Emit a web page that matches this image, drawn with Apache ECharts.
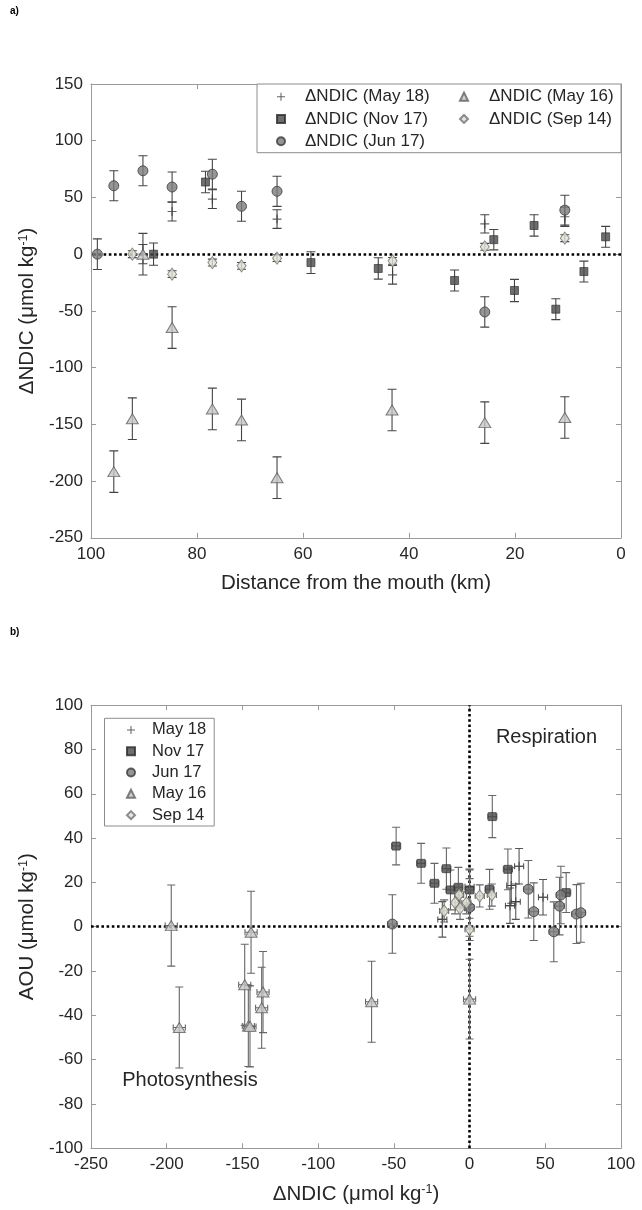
<!DOCTYPE html>
<html><head><meta charset="utf-8">
<script src="https://cdn.jsdelivr.net/npm/echarts/dist/echarts.min.js"></script>
<style>html,body{margin:0;padding:0;background:#fff;}#c{width:642px;height:1210px;}</style>
</head><body><div id="c"></div>
<script>
// ---------- Panel a: ΔNDIC vs distance from the mouth ----------
const distTicks = [100, 80, 60, 40, 20, 0];
const ndicTicks = [150, 100, 50, 0, -50, -100, -150, -200, -250];

const kmMay18  = [90.2, 84.7, 77.1, 64.9, 43.1, 25.7, 10.6];
const valMay18 = [0, 37.6, 48.5, 30.9, -18.2, 26.7, 33.0];
const errMay18 = [8.5, 8.3, 8.3, 8.2, 8.2, 8.1, 8.5];

const kmNov17  = [88.2, 78.4, 58.5, 45.8, 31.4, 24.0, 20.1, 16.4, 12.3, 7.0, 2.9];
const valNov17 = [0, 63.6, -7.4, -12.6, -23.2, 12.8, -32.0, 25.3, -48.5, -15.3, 15.3];
const errNov17 = [9.8, 9.5, 9.6, 9.4, 9.2, 9.0, 9.8, 9.4, 9.2, 9.2, 9.2];

const kmJun17  = [98.8, 95.7, 90.2, 84.7, 77.1, 71.6, 64.9, 25.7, 10.6];
const valJun17 = [0, 60.3, 73.5, 59.2, 70.5, 42.2, 55.4, -50.9, 38.8];
const errJun17 = [13.5, 13.2, 13.2, 13.2, 13.2, 13.2, 13.3, 13.4, 13.2];

const kmMay16  = [95.7, 92.2, 90.2, 84.7, 77.1, 71.6, 64.9, 43.2, 25.7, 10.6];
const valMay16 = [-191.7, -145, 0, -64.7, -136.4, -146.1, -197, -137.3, -148.5, -144];
const errMay16 = [18.3, 18.3, 18.3, 18.3, 18.3, 18.3, 18.3, 18.3, 18.3, 18.3];

const kmSep14  = [92.2, 84.7, 77.1, 71.6, 64.9, 43.1, 25.7, 10.6];
const valSep14 = [0, -17.6, -7.4, -10.3, -3.5, -5.9, 6.5, 14.1];
const errSep14 = [3, 3, 3, 3, 3, 3, 3, 3];

// ---------- Panel b: AOU vs ΔNDIC ----------
const ndicBTicks = [-250, -200, -150, -100, -50, 0, 50, 100];
const aouTicks = [-100, -80, -60, -40, -20, 0, 20, 40, 60, 80, 100];

const bNdicMay18 = [-18, 0, 27.5, 32.7, 30.5, 26.7, 48.5];
const bAouMay18  = [3.3, 18, 18.6, 27.3, 11.3, 9.5, 13.3];
const bAouErrMay18  = [8, 8, 8, 8, 8, 8, 8];
const bNdicErrMay18 = [3, 3, 3, 3, 3, 3, 3];

const bNdicNov17 = [-48.5, -32, -23.2, -15.3, -12.6, -7.4, 0, 13.2, 15, 25.3, 63.8];
const bAouNov17  = [36.4, 28.6, 19.6, 26.2, 16.6, 17.8, 16.6, 16.9, 49.7, 25.9, 15.4];
const bAouErrNov17  = [8.5, 9, 9, 9.3, 9, 9, 9, 9, 9.5, 9.2, 9];
const bNdicErrNov17 = [3, 3, 3, 3, 3, 3, 3, 3, 3, 3, 3];

const bNdicJun17 = [-51, 0, 38.8, 42.4, 55.6, 59.4, 60.3, 70.6, 73.5];
const bAouJun17  = [1.2, 8.7, 16.9, 6.8, -2.3, 9.3, 14.3, 5.7, 6.3];
const bAouErrJun17  = [13.2, 13, 13, 13, 13.5, 13, 13, 13.3, 13.3];
const bNdicErrJun17 = [3, 3, 3, 3, 3, 3, 3, 3, 3];

const bNdicMay16 = [-197, -191.7, -144.3, -148.5, -136.4, -137.3, -146.1, -145, -64.7, 0];
const bAouMay16  = [0.5, -45.5, -2.5, -26.2, -29.5, -36.6, -44.8, -45, -33.9, -32.7];
const bAouErrMay16  = [18.3, 18.3, 18.5, 18.3, 18.3, 18.3, 18.3, 18.3, 18.3, 18];
const bNdicErrMay16 = [4, 4, 4, 4, 4, 4, 4, 4, 4, 4];

const bNdicSep14 = [0, -16.8, -6.9, -9.6, -6.3, -2.1, 6.7, 14.7];
const bAouSep14  = [-1.2, 7.1, 14.3, 10.8, 8.3, 10.8, 13.9, 14.3];
const bAouErrSep14  = [5, 5, 5, 5, 5, 5, 5, 5];
const bNdicErrSep14 = [3, 3, 3, 3, 3, 3, 3, 3];

// ---------- styling ----------
const FONT = "'Liberation Sans', Arial, Helvetica, sans-serif";
const TXT = '#262626';
const AXC = '#9a9a9a';
const PLUS = 'path://M0,4.35H10V5.65H0ZM4.35,0H5.65V10H4.35Z';

const sty = {
  May18: {symbol: PLUS, size: 9, item: {color: '#3c3c3c'}},
  Nov17: {symbol: 'rect', size: 8, item: {color: '#4a4a4a', borderColor: '#2a2a2a', borderWidth: 0.8}},
  Jun17: {symbol: 'circle', size: 10, item: {color: '#7a7a7a', borderColor: '#3c3c3c', borderWidth: 1}},
  May16: {symbol: 'triangle', size: [12, 10], item: {color: '#c6c6c6', borderColor: '#5e5e5e', borderWidth: 1}},
  Sep14: {symbol: 'diamond', size: [9, 12], item: {color: '#e2dfd2', borderColor: '#707070', borderWidth: 1}}
};

function zip(a, b, c, d) { return a.map((v, i) => d ? [v, b[i], c[i], d[i]] : [v, b[i], c[i], 0]); }

function errRender(col, capY, capX) {
  return function (params, api) {
    const x = api.value(0), y = api.value(1), ey = api.value(2), ex = api.value(3);
    const st = {stroke: col, lineWidth: 1.1};
    const ch = [];
    const t = api.coord([x, y + ey]), b = api.coord([x, y - ey]);
    ch.push({type: 'line', shape: {x1: t[0], y1: t[1], x2: b[0], y2: b[1]}, style: st});
    ch.push({type: 'line', shape: {x1: t[0] - capY, y1: t[1], x2: t[0] + capY, y2: t[1]}, style: st});
    ch.push({type: 'line', shape: {x1: b[0] - capY, y1: b[1], x2: b[0] + capY, y2: b[1]}, style: st});
    if (ex) {
      const l = api.coord([x - ex, y]), r = api.coord([x + ex, y]);
      ch.push({type: 'line', shape: {x1: l[0], y1: l[1], x2: r[0], y2: r[1]}, style: st});
      ch.push({type: 'line', shape: {x1: l[0], y1: l[1] - capX, x2: l[0], y2: l[1] + capX}, style: st});
      ch.push({type: 'line', shape: {x1: r[0], y1: r[1] - capX, x2: r[0], y2: r[1] + capX}, style: st});
    }
    return {type: 'group', children: ch};
  };
}

const series = [];
let zc = 2;
function addSeries(name, key, gi, xs, ys, ey, ex, errCol, capY, capX, extra) {
  series.push({
    type: 'custom', name: name + ' err', xAxisIndex: gi * 2, yAxisIndex: gi * 2, z: zc++,
    renderItem: errRender(errCol, capY, capX), data: zip(xs, ys, ey, ex), silent: true,
    encode: {x: 0, y: 1}, clip: true
  });
  const s = {
    type: 'scatter', name: name, xAxisIndex: gi * 2, yAxisIndex: gi * 2, z: zc++,
    symbol: sty[key].symbol, symbolSize: sty[key].size, itemStyle: sty[key].item,
    data: xs.map((v, i) => [v, ys[i]]), silent: true
  };
  if (extra) Object.assign(s, extra);
  series.push(s);
}

const dotted = {color: '#000', width: 2.6, type: [2.6, 2.6]};
addSeries('ΔNDIC (May 18)', 'May18', 0, kmMay18, valMay18, errMay18, null, '#444', 4.5, 0,
  {markLine: {silent: true, symbol: 'none', label: {show: false}, lineStyle: dotted, data: [{yAxis: 0}]}});
addSeries('ΔNDIC (Nov 17)', 'Nov17', 0, kmNov17, valNov17, errNov17, null, '#444', 4.5, 0);
addSeries('ΔNDIC (Jun 17)', 'Jun17', 0, kmJun17, valJun17, errJun17, null, '#444', 4.5, 0);
addSeries('ΔNDIC (May 16)', 'May16', 0, kmMay16, valMay16, errMay16, null, '#444', 4.5, 0);
addSeries('ΔNDIC (Sep 14)', 'Sep14', 0, kmSep14, valSep14, errSep14, null, '#444', 4.5, 0);

addSeries('May 18', 'May18', 1, bNdicMay18, bAouMay18, bAouErrMay18, bNdicErrMay18, '#555', 4, 3,
  {markLine: {silent: true, symbol: 'none', label: {show: false}, lineStyle: dotted, data: [{yAxis: 0}, {xAxis: 0}]}});
addSeries('Nov 17', 'Nov17', 1, bNdicNov17, bAouNov17, bAouErrNov17, bNdicErrNov17, '#666', 4, 3);
addSeries('Jun 17', 'Jun17', 1, bNdicJun17, bAouJun17, bAouErrJun17, bNdicErrJun17, '#666', 4, 3);
addSeries('May 16', 'May16', 1, bNdicMay16, bAouMay16, bAouErrMay16, bNdicErrMay16, '#666', 4, 3);
addSeries('Sep 14', 'Sep14', 1, bNdicSep14, bAouSep14, bAouErrSep14, bNdicErrSep14, '#666', 4, 3);

const tickCommon = {inside: true, length: 5, lineStyle: {color: AXC}};
const lineCommon = {show: true, onZero: false, lineStyle: {color: AXC, width: 1}};
const lab = {color: TXT, fontSize: 17, fontFamily: FONT, margin: 8};
const nameStyle = {color: TXT, fontSize: 20.5, fontFamily: FONT,
  rich: {sup: {fontSize: 12.5, verticalAlign: 'top', fontFamily: FONT, color: TXT, padding: [0, 0, 9, 0]}}};

function xAx(gi, min, max, itv, inverse, name, gap) {
  return [
    {type: 'value', gridIndex: gi, min, max, interval: itv, inverse, position: 'bottom',
     axisLine: lineCommon, axisTick: tickCommon, axisLabel: lab, splitLine: {show: false},
     name, nameLocation: 'middle', nameGap: gap, nameTextStyle: nameStyle},
    {type: 'value', gridIndex: gi, min, max, interval: itv, inverse, position: 'top',
     axisLine: lineCommon, axisTick: tickCommon, axisLabel: {show: false}, splitLine: {show: false}}
  ];
}
function yAx(gi, min, max, itv, name, gap) {
  return [
    {type: 'value', gridIndex: gi, min, max, interval: itv, position: 'left',
     axisLine: lineCommon, axisTick: tickCommon, axisLabel: lab, splitLine: {show: false},
     name, nameLocation: 'middle', nameGap: gap, nameRotate: 90, nameTextStyle: nameStyle},
    {type: 'value', gridIndex: gi, min, max, interval: itv, position: 'right',
     axisLine: lineCommon, axisTick: tickCommon, axisLabel: {show: false}, splitLine: {show: false}}
  ];
}

const legText = (fs, lh, pad) => ({color: TXT, fontSize: fs, fontFamily: FONT, lineHeight: lh, padding: [0, 0, 0, pad]});

const option = {
  animation: false,
  backgroundColor: '#fff',
  grid: [
    {left: 91, top: 84, width: 530, height: 453.8, outerBoundsMode: 'none', containLabel: false},
    {left: 91, top: 705.2, width: 530, height: 443, outerBoundsMode: 'none', containLabel: false}
  ],
  xAxis: [
    ...xAx(0, distTicks[distTicks.length - 1], distTicks[0], 20, true, 'Distance from the mouth (km)', 35),
    ...xAx(1, ndicBTicks[0], ndicBTicks[ndicBTicks.length - 1], 50, false, 'ΔNDIC (μmol kg{sup|-1})', 35)
  ],
  yAxis: [
    ...yAx(0, ndicTicks[ndicTicks.length - 1], ndicTicks[0], 50, 'ΔNDIC (μmol kg{sup|-1})', 40),
    ...yAx(1, aouTicks[0], aouTicks[aouTicks.length - 1], 20, 'AOU (μmol kg{sup|-1})', 40)
  ],
  legend: [
    {orient: 'vertical', left: 276, top: 85.5, padding: 0, itemGap: 0, itemWidth: 8, itemHeight: 8, z: 10,
     data: ['ΔNDIC (May 18)', 'ΔNDIC (Nov 17)', 'ΔNDIC (Jun 17)'], textStyle: legText(17, 22.3, 15), selectedMode: false},
    {orient: 'vertical', left: 459, top: 85.5, padding: 0, itemGap: 0, itemWidth: 8, itemHeight: 8, z: 10,
     data: ['ΔNDIC (May 16)', 'ΔNDIC (Sep 14)'], textStyle: legText(17, 22.3, 16), selectedMode: false},
    {orient: 'vertical', left: 126, top: 719.3, padding: 0, itemGap: 0, itemWidth: 8, itemHeight: 8, z: 10,
     data: ['May 18', 'Nov 17', 'Jun 17', 'May 16', 'Sep 14'], textStyle: legText(16.5, 21.3, 12), selectedMode: false}
  ],
  graphic: [
    {type: 'rect', z: 5, shape: {x: 257, y: 84, width: 364, height: 68.7}, style: {fill: '#fff', stroke: '#8c8c8c', lineWidth: 1}},
    {type: 'rect', z: 5, shape: {x: 104.5, y: 718.3, width: 109.7, height: 107.7}, style: {fill: '#fff', stroke: '#8c8c8c', lineWidth: 1}},
    {type: 'text', z: 6, left: 10, top: 6, style: {text: 'a)', font: 'bold 10px ' + FONT, fill: '#000'}},
    {type: 'text', z: 6, left: 10, top: 627, style: {text: 'b)', font: 'bold 10px ' + FONT, fill: '#000'}},
    {type: 'text', z: 6, x: 546.5, y: 737, style: {text: 'Respiration', font: '20px ' + FONT, fill: TXT, align: 'center', verticalAlign: 'middle'}},
    {type: 'text', z: 6, x: 190, y: 1080, style: {text: 'Photosynthesis', font: '20px ' + FONT, fill: TXT, align: 'center', verticalAlign: 'middle'}}
  ],
  series
};

const chart = echarts.init(document.getElementById('c'), null, {renderer: 'canvas'});
chart.setOption(option);
</script>
</body></html>
